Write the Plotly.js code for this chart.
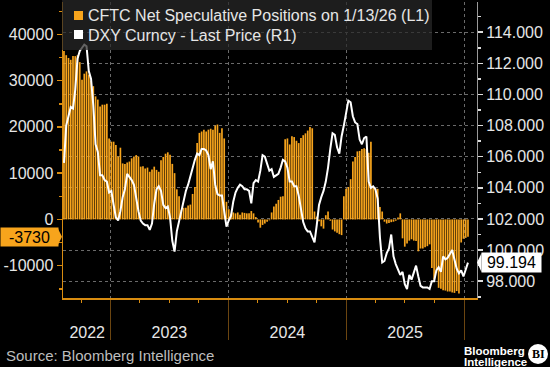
<!DOCTYPE html>
<html>
<head>
<meta charset="utf-8">
<script src="https://cdn.plot.ly/plotly-3.0.1.min.js"></script>
<style>
html,body{margin:0;padding:0;background:#000;}
#chart{width:550px;height:367px;}
</style>
</head>
<body>
<div id="chart"></div>
<script>
// ---- DATA ----
const startDate = '2022-08-09'; // first weekly CFTC observation (Tuesdays)
const cftcNet = [
 36400, 35500, 34900, 34500, 35300, 35300, 35500, 34000, 30200, 31500,
 32000, 31300, 30000, 28800, 26600, 25900, 24400, 24800, 24800, 25000,
 17500, 16800, 16800, 16100, 13600, 15500, 12100, 12000, 12300, 12500,
 13200, 13600, 13900, 13600, 11400, 11500, 11000, 11200, 10300, 10800,
 11400, 10700, 10300, 12800, 13500, 14200, 14500, 14000, 12000, 10000,
 6500, 5000, 2000, 2500, 2500, 3000, 3200, 5500, 7000, 16500,
 18700, 19000, 19400, 19000, 19400, 19600, 19400, 20300, 20500, 18700,
 19700, 17500, 3800, 2200, 1200, 1500, 1300, 1500, 1000, 1500,
 1400, 1300, 1300, 1800, 1300, 500, -700, -1800, -1200, -900,
 -500, -200, 1500, 2800, 3400, 4200, 4900, 5000, 17300, 17500,
 16200, 18000, 17800, 17000, 16500, 17600, 18200, 18600, 19200, 20000,
 19700, 1700, 600, -400, -1500, -2000, 900, 1700, -300, -2200,
 -2600, -2900, -3200, -3400, 5000, 6600, 7000, 8700, 12500, 13500,
 14700, 14800, 15200, 15400, 15200, 14400, 16800, 7100, 6700, 6600,
 2700, 1700, -500, -900, -800, -600, -500, -300, 400, 1300,
 -4100, -5900, -5200, -4600, -4300, -4600, -4700, -6900, -6300, -6300,
 -6000, -5800, -5400, -10500, -13000, -11500, -14800, -15000, -15300, -15400,
 -15600, -15600, -15800, -15900, -15500, -16000, -5000, -4200, -4000, -3730
];
const dxy = [
 105.6, 108.0, 108.6, 109.2, 109.1, 110.3, 112.3, 112.8, 113.0, 113.2,
 113.1, 111.5, 111.0, 109.3, 106.8, 106.3, 104.8, 104.8, 104.5, 104.4,
 103.7, 103.8, 102.9, 102.1, 101.9, 102.5, 103.4, 103.9, 104.9, 104.7,
 104.5, 104.2, 103.2, 102.5, 101.9, 101.7, 101.6, 101.6, 101.3, 101.7,
 103.0, 103.9, 104.1, 103.8, 102.9, 102.7, 102.8, 102.1, 100.6, 99.9,
 101.2, 101.9, 102.6, 103.1, 103.8, 104.2, 104.8, 105.3, 105.8, 106.2,
 106.1, 106.5, 106.5, 106.4, 106.1, 105.2, 105.7, 104.2, 103.6, 103.5,
 103.5, 102.5, 101.5, 101.9, 102.2, 103.1, 103.7, 104.0, 104.2, 104.1,
 103.9, 103.9, 103.8, 103.0, 104.3, 104.5, 104.4, 105.1, 106.1, 106.0,
 105.6, 105.1, 105.2, 104.7, 104.8, 104.9, 105.3, 105.8, 105.7, 105.3,
 104.4, 104.4, 104.1, 104.1, 103.5, 102.6, 101.8, 101.4, 101.2, 101.2,
 100.9, 100.5, 101.6, 102.9, 103.4, 103.8, 104.4, 105.3, 106.5, 107.5,
 107.4, 106.6, 106.2, 107.3, 108.0, 108.8, 109.6, 109.5, 108.6, 108.2,
 108.1, 107.1, 106.8, 107.2, 107.3, 104.4, 104.0, 104.1, 103.9, 103.3,
 100.8, 99.2, 99.3, 99.8, 100.1, 101.0, 99.6, 99.1, 98.8, 98.4,
 98.6, 97.8, 97.5, 98.4, 98.1, 98.5, 99.0, 98.3, 97.7, 97.6,
 97.6, 97.6, 97.5, 98.0, 98.0, 98.7, 98.9, 98.6, 99.6, 99.4,
 99.5, 99.8, 100.0, 99.4, 98.8, 98.5, 98.7, 98.3, 98.8, 99.194
];
const leftTickVals = [-10000, 0, 10000, 20000, 30000, 40000];
const leftTickText = ['-10000', '0', '10000', '20000', '30000', '40000'];
const rightTickVals = [98, 100, 102, 104, 106, 108, 110, 112, 114];
const yearBoundaries = ['2023-01-01', '2024-01-01', '2025-01-01', '2026-01-01'];
const yearLabelPos = ['2022-10-20', '2023-07-02', '2024-07-02', '2025-07-02'];
const yearLabels = ['2022', '2023', '2024', '2025'];
const seriesNames = ['CFTC Net Speculative Positions on 1/13/26 (L1)', 'DXY Curncy - Last Price (R1)'];

// weekly dates
const dates = [];
{
  const t0 = Date.parse(startDate + 'T00:00:00Z');
  for (let i = 0; i < cftcNet.length; i++) {
    dates.push(new Date(t0 + i * 7 * 86400000).toISOString().slice(0, 10));
  }
}

// ---- LAYOUT HELPERS ----
const W = 550, H = 367, ML = 63, MR = 73, MT = 2, MB = 69;
const PW = W - ML - MR, PH = H - MT - MB;
const px = x => (x - ML) / PW;
const py = y => (H - MB - y) / PH;
const yRange = [-17000, 47000];
const y2Range = [96.92, 115.94];
const yPerPx = (yRange[1] - yRange[0]) / PH;
const y2PerPx = (y2Range[1] - y2Range[0]) / PH;

const ORANGE = '#f7a41c';
const AXIS_ORANGE = '#d98c10';
const TXT = '#e6e6e6';
const FONT = 'Liberation Sans, Arial, sans-serif';

const lastBar = cftcNet[cftcNet.length - 1];
const lastDxy = dxy[dxy.length - 1];

const traces = [
  {
    type: 'bar', x: dates, y: cftcNet, name: seriesNames[0],
    marker: {color: ORANGE, line: {width: 0}},
    xaxis: 'x', yaxis: 'y', hoverinfo: 'skip'
  },
  {
    type: 'scatter', mode: 'lines', x: dates, y: dxy, name: seriesNames[1],
    line: {color: '#ffffff', width: 2},
    xaxis: 'x2', yaxis: 'y2', hoverinfo: 'skip'
  }
];

const h1 = 9 * yPerPx, h2 = 9.5 * y2PerPx;

const layout = {
  width: W, height: H,
  margin: {l: ML, r: MR, t: MT, b: MB, pad: 0},
  paper_bgcolor: '#000', plot_bgcolor: '#000',
  font: {family: FONT, size: 16, color: TXT},
  showlegend: false,
  bargap: 0.25,
  xaxis: {
    type: 'date', range: ['2022-08-06', '2026-02-10'],
    tickmode: 'array', tickvals: yearBoundaries, showticklabels: false,
    ticks: 'outside', ticklen: 40, tickcolor: '#6b4510', tickwidth: 1,
    showgrid: true, gridcolor: '#6a6a6a', griddash: 'dot', gridwidth: 1,
    showline: true, linecolor: AXIS_ORANGE, linewidth: 1.5,
    zeroline: false,
    minor: {dtick: 'M3', tick0: '2022-01-01', ticks: 'outside', ticklen: 3, tickcolor: AXIS_ORANGE, showgrid: false}
  },
  xaxis2: {
    type: 'date', matches: 'x', overlaying: 'x', anchor: 'y', side: 'bottom',
    tickmode: 'array', tickvals: yearLabelPos, ticktext: yearLabels,
    ticks: 'outside', ticklen: 20, tickcolor: 'rgba(0,0,0,0)',
    showgrid: false, showline: false, zeroline: false,
    tickfont: {family: FONT, size: 16, color: TXT}
  },
  yaxis: {
    range: yRange, tickmode: 'array', tickvals: leftTickVals, ticktext: leftTickText,
    ticks: 'outside', ticklen: 5, tickcolor: AXIS_ORANGE, tickwidth: 1.5,
    showline: true, linecolor: AXIS_ORANGE, linewidth: 1.5,
    showgrid: false, zeroline: false,
    tickfont: {family: FONT, size: 16, color: TXT},
    minor: {dtick: 5000, ticks: 'outside', ticklen: 3, tickcolor: AXIS_ORANGE}
  },
  yaxis2: {
    range: y2Range, overlaying: 'y', side: 'right', anchor: 'x',
    tickmode: 'array', tickvals: rightTickVals, ticktext: rightTickVals.map(v => v.toFixed(3)),
    ticks: 'outside', ticklen: 5, tickcolor: '#dddddd', tickwidth: 1.5,
    showline: true, linecolor: '#9a9a9a', linewidth: 1,
    showgrid: true, gridcolor: '#6a6a6a', griddash: 'dot', gridwidth: 1,
    zeroline: false,
    tickfont: {family: FONT, size: 16, color: TXT},
    minor: {dtick: 1, ticks: 'outside', ticklen: 3, tickcolor: '#dddddd', showgrid: false}
  },
  shapes: [
    // legend background
    {type: 'rect', xref: 'paper', yref: 'paper', x0: px(62), x1: px(432), y0: py(50), y1: py(0),
     fillcolor: 'rgba(40,40,40,0.72)', line: {width: 0}, layer: 'above'},
    {type: 'rect', xref: 'paper', yref: 'paper', x0: px(74), x1: px(83), y0: py(20), y1: py(11),
     fillcolor: ORANGE, line: {width: 0}, layer: 'above'},
    {type: 'rect', xref: 'paper', yref: 'paper', x0: px(74), x1: px(83), y0: py(39), y1: py(30),
     fillcolor: '#ffffff', line: {width: 0}, layer: 'above'},
    // last value pointers
    {type: 'path', xref: 'paper', yref: 'y', layer: 'above',
     path: `M ${px(57.5)},${lastBar + h1} L ${px(62)},${lastBar} L ${px(57.5)},${lastBar - h1} Z`,
     fillcolor: ORANGE, line: {width: 0}},
    {type: 'path', xref: 'paper', yref: 'y2', layer: 'above',
     path: `M ${px(481.5)},${lastDxy + h2} L ${px(477)},${lastDxy} L ${px(481.5)},${lastDxy - h2} Z`,
     fillcolor: '#ffffff', line: {width: 0}},
    // BI logo circle
    {type: 'circle', xref: 'paper', yref: 'paper', x0: px(528), x1: px(548), y0: py(364), y1: py(344),
     fillcolor: '#ffffff', line: {width: 0}}
  ],
  annotations: [
    {xref: 'paper', yref: 'paper', x: px(86), y: py(15.5), xanchor: 'left', yanchor: 'middle',
     text: seriesNames[0], showarrow: false, font: {family: FONT, size: 16, color: TXT}},
    {xref: 'paper', yref: 'paper', x: px(86), y: py(35), xanchor: 'left', yanchor: 'middle',
     text: seriesNames[1], showarrow: false, font: {family: FONT, size: 16, color: TXT}},
    {xref: 'paper', yref: 'y', x: px(0), y: lastBar, xanchor: 'left', yanchor: 'middle',
     text: String(lastBar), showarrow: false, bgcolor: ORANGE,
     width: 57, height: 18, borderpad: 0, align: 'center',
     font: {family: FONT, size: 16, color: '#000'}},
    {xref: 'paper', yref: 'y2', x: px(481), y: lastDxy, xanchor: 'left', yanchor: 'middle',
     text: lastDxy.toFixed(3), showarrow: false, bgcolor: '#ffffff',
     width: 59, height: 19, borderpad: 0, align: 'center',
     font: {family: FONT, size: 16, color: '#000'}},
    {xref: 'paper', yref: 'paper', x: px(4), y: py(355), xanchor: 'left', yanchor: 'middle',
     text: 'Source: Bloomberg Intelligence', showarrow: false,
     font: {family: FONT, size: 15, color: '#bdbdbd'}},
    {xref: 'paper', yref: 'paper', x: px(462), y: py(351), xanchor: 'left', yanchor: 'middle',
     text: '<b>Bloomberg</b>', showarrow: false, font: {family: FONT, size: 11.5, color: '#ffffff'}},
    {xref: 'paper', yref: 'paper', x: px(462), y: py(362), xanchor: 'left', yanchor: 'middle',
     text: '<b>Intelligence</b>', showarrow: false, font: {family: FONT, size: 11.5, color: '#ffffff'}},
    {xref: 'paper', yref: 'paper', x: px(538), y: py(354), xanchor: 'center', yanchor: 'middle',
     text: '<b>BI</b>', showarrow: false, font: {family: 'Liberation Serif, serif', size: 12, color: '#000'}}
  ]
};

Plotly.newPlot('chart', traces, layout, {staticPlot: true, displayModeBar: false});
</script>
</body>
</html>
